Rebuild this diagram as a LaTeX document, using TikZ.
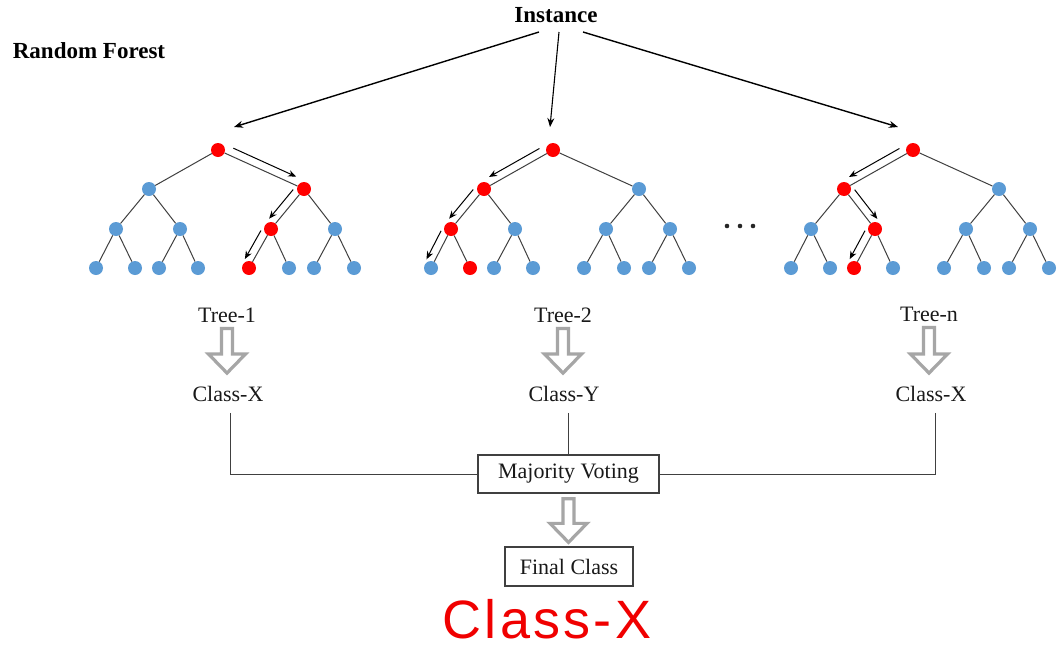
\documentclass[tikz,border=0pt]{standalone}
\usepackage{fontspec}
\setmainfont{Liberation Serif}
\newfontfamily\handfont[LetterSpace=6]{Liberation Sans}
\usetikzlibrary{calc,arrows.meta}

\definecolor{nodeblue}{HTML}{5B9BD5}
\definecolor{nodered}{HTML}{FF0000}
\definecolor{edgegray}{HTML}{404040}
\definecolor{arrowgray}{HTML}{A6A6A6}
\definecolor{inkred}{HTML}{F00000}

\tikzset{
  tn/.style={circle, fill=nodeblue, minimum size=14pt, inner sep=0pt},
  hot/.style={fill=nodered},
  edge/.style={draw=edgegray, line width=1pt},
  walk/.style={draw=black, line width=1pt, -{Stealth[length=8pt,width=6.5pt]}},
  feed/.style={draw=black, line width=1.4pt, -{Stealth[length=9pt,width=7pt]}},
  lbl/.style={font=\fontsize{22pt}{26pt}\selectfont, inner sep=0pt, text=black!90},
  ttl/.style={font=\fontsize{23pt}{27pt}\selectfont\bfseries, inner sep=0pt, text=black},
  box/.style={draw=edgegray, line width=1.3pt, font=\fontsize{22pt}{26pt}\selectfont,
              text=black!90, inner sep=0pt},
  wire/.style={draw=edgegray, line width=1pt},
  hollow/.style={draw=arrowgray, line width=3.2pt, fill=white, line join=miter},
  hand/.style={font=\handfont\fontsize{54pt}{60pt}\selectfont, text=inkred, inner sep=0pt},
  % nodes on the decision path of each tree
  t1-r/.style=hot, t1-1/.style=hot, t1-10/.style=hot, t1-100/.style=hot,
  t2-r/.style=hot, t2-0/.style=hot, t2-00/.style=hot, t2-001/.style=hot,
  tn-r/.style=hot, tn-0/.style=hot, tn-01/.style=hot, tn-010/.style=hot,
}

% a complete binary tree of depth 3, root at x = #2
\newcommand\rftree[2]{%
  \begin{scope}[shift={(#2,0)}]
    \node[tn,#1-r/.try]   (#1-r)   at (0,-150)    {};
    \node[tn,#1-0/.try]   (#1-0)   at (-69,-189)  {};
    \node[tn,#1-1/.try]   (#1-1)   at (86,-189)   {};
    \node[tn,#1-00/.try]  (#1-00)  at (-102,-229) {};
    \node[tn,#1-01/.try]  (#1-01)  at (-38,-229)  {};
    \node[tn,#1-10/.try]  (#1-10)  at (53,-229)   {};
    \node[tn,#1-11/.try]  (#1-11)  at (117,-229)  {};
    \node[tn,#1-000/.try] (#1-000) at (-122,-268) {};
    \node[tn,#1-001/.try] (#1-001) at (-83,-268)  {};
    \node[tn,#1-010/.try] (#1-010) at (-59,-268)  {};
    \node[tn,#1-011/.try] (#1-011) at (-20,-268)  {};
    \node[tn,#1-100/.try] (#1-100) at (31,-268)   {};
    \node[tn,#1-101/.try] (#1-101) at (71,-268)   {};
    \node[tn,#1-110/.try] (#1-110) at (96,-268)   {};
    \node[tn,#1-111/.try] (#1-111) at (136,-268)  {};
  \end{scope}
  \draw[edge] (#1-r)--(#1-0) (#1-r)--(#1-1)
    (#1-0)--(#1-00) (#1-0)--(#1-01) (#1-1)--(#1-10) (#1-1)--(#1-11)
    (#1-00)--(#1-000) (#1-00)--(#1-001) (#1-01)--(#1-010) (#1-01)--(#1-011)
    (#1-10)--(#1-100) (#1-10)--(#1-101) (#1-11)--(#1-110) (#1-11)--(#1-111);
}

% small arrow running beside an edge, on side #3 (90 = left, -90 = right)
\newcommand\walk[3]{%
  \draw[walk] ($(#1)!0.14!(#2)!8pt!#3:(#2)$) -- ($(#1)!0.87!(#2)!8pt!#3:(#2)$);}

% hollow block arrow pointing down from node #1 to node #2
\newcommand\hollowdown[4]{%
  \draw[hollow] let \p1=(#1.south), \p2=(#2.north) in
    (\x1-5.5pt,\y1-#3) -- (\x1+5.5pt,\y1-#3) -- (\x1+5.5pt,\y2+#4+19pt)
    -- (\x1+18.5pt,\y2+#4+19pt) -- (\x1,\y2+#4) -- (\x1-18.5pt,\y2+#4+19pt)
    -- (\x1-5.5pt,\y2+#4+19pt) -- cycle;}

\begin{document}
\begin{tikzpicture}[x=1pt,y=1pt]
  \path[use as bounding box, fill=white] (0,0) rectangle (1058,-651);

  \node[ttl] (title) at (89,-51) {Random Forest};
  \node[ttl] (inst) at (556,-15) {Instance};

  \rftree{t1}{218}
  \rftree{t2}{553}
  \rftree{tn}{913}

  % decision paths
  \walk{t1-r}{t1-1}{90}
  \walk{t1-1}{t1-10}{-90}
  \walk{t1-10}{t1-100}{-90}
  \walk{t2-r}{t2-0}{-90}
  \walk{t2-0}{t2-00}{-90}
  \walk{t2-00}{t2-000}{-90}
  \walk{tn-r}{tn-0}{-90}
  \walk{tn-0}{tn-01}{90}
  \walk{tn-01}{tn-010}{-90}

  % the instance is passed to every tree
  \draw[feed] ([shift={(-17,-17)}]inst.center) -- ([shift={(16,23)}]t1-r.center);
  \draw[feed, line width=1.1pt] ([shift={(3,-17)}]inst.center) -- ([shift={(-3,23)}]t2-r.center);
  \draw[feed] ([shift={(27,-17)}]inst.center) -- ([shift={(-15,23)}]tn-r.center);

  % further trees
  \coordinate (more) at (740,-226);
  \foreach \dx in {-13,0,13} \fill[black!85] ([xshift=\dx pt]more) circle (2.3);

  \node[lbl] (tl1) at (227,-315) {Tree-1};
  \node[lbl] (tl2) at (563,-315) {Tree-2};
  \node[lbl] (tln) at (929,-314) {Tree-n};
  \node[lbl] (cl1) at (228,-394) {Class-X};
  \node[lbl] (cl2) at (564,-394) {Class-Y};
  \node[lbl] (cln) at (931,-394) {Class-X};

  \hollowdown{tl1}{cl1}{6pt}{13pt}
  \hollowdown{tl2}{cl2}{6pt}{13pt}
  \hollowdown{tln}{cln}{6pt}{13pt}

  \node[box, minimum width=181pt, minimum height=38pt] (vote) at (568.5,-474) {Majority Voting};
  \node[box, minimum width=128pt, minimum height=39pt] (final) at (569,-566.5) {Final Class};

  \draw[wire] ([shift={(2,-11)}]cl1.south) |- (vote.west);
  \draw[wire] ([shift={(4,-11)}]cln.south) |- (vote.east);
  \draw[wire] ($(vote.north |- cl2.south)+(0,-11)$) -- (vote.north);

  \hollowdown{vote}{final}{5pt}{4pt}

  \node[hand] (answer) at (547,-619) {Class-X};
\end{tikzpicture}
\end{document}
